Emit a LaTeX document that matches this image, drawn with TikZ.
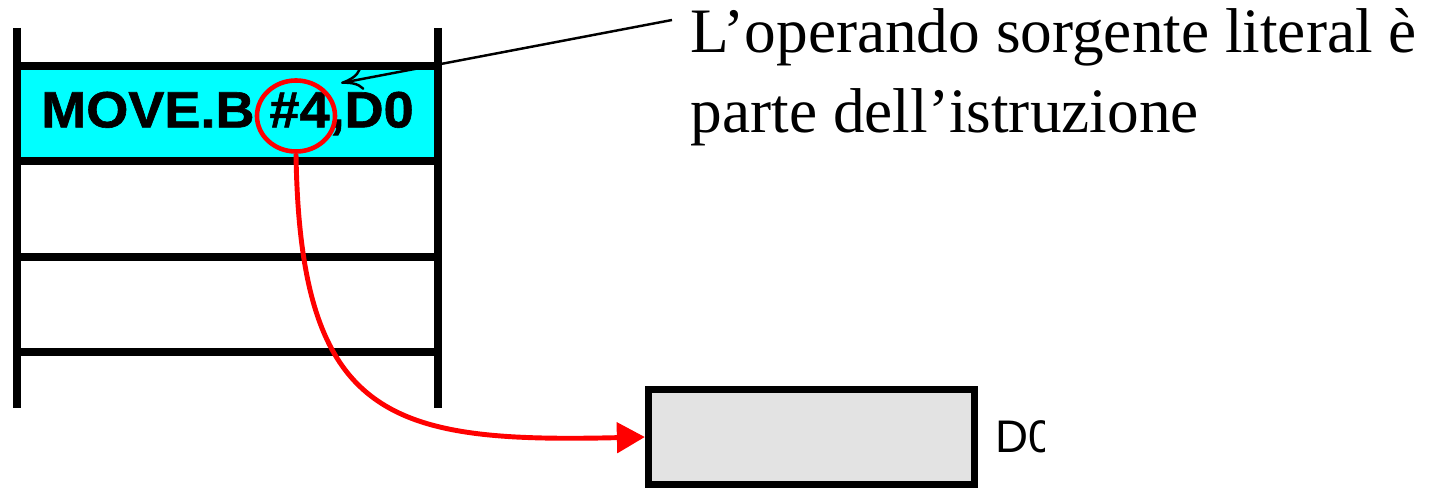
\documentclass[tikz,border=0pt]{standalone}
\usepackage{fontspec}
\setmainfont{Liberation Serif}
\setsansfont{Liberation Sans}
\newfontfamily\cellfont{Liberation Sans}[BoldFeatures={FakeBold=1.2,FakeStretch=1.06}]
\usetikzlibrary{arrows.meta,positioning,shapes.geometric}
\definecolor{cellcyan}{HTML}{00FFFF}
\definecolor{regfill}{HTML}{E3E3E3}
\definecolor{litred}{HTML}{FF0000}

\begin{document}
\begin{tikzpicture}[
    x=0.01cm, y=-0.01cm,
    wall/.style={line width=2pt},
    cell/.style={
        rectangle,
        inner sep=0pt,
        minimum width=4.21cm,
        minimum height=0.95cm,
        fill=cellcyan,
        font=\cellfont\bfseries\fontsize{14.5}{16}\selectfont
    },
    register/.style={
        rectangle,
        draw,
        line width=2pt,
        fill=regfill,
        minimum width=3.26cm,
        minimum height=0.95cm,
        inner sep=0pt
    },
    ring/.style={ellipse, draw=litred, line width=1.3pt, inner sep=0pt,
        minimum width=0.78cm, minimum height=0.71cm},
    flow/.style={draw=litred, line width=1.4pt,
        -{Triangle[length=0.28cm,width=0.30cm]}},
    pointer/.style={line width=0.7pt, -{To[length=0.22cm,width=0.22cm]}},
    note/.style={align=left, inner sep=0pt,
        font=\fontsize{18}{22.8}\selectfont}
]
    \useasboundingbox (0,0) rectangle (1443,488);

    % === MEMORY ===
    \node[cell] (instr) at (227.5,113.5) {MOVE.B \#4,D0};
    \foreach \y in {66,161,257,352} {
        \draw[wall] (17,\y) -- (438,\y);
    }
    \draw[wall] (17,28) -- (17,408);
    \draw[wall] (438,28) -- (438,408);

    % literal operand
    \node[ring] (lit) at (296,116) {};

    % === REGISTER D0 ===
    \node[register] (reg) at (811.5,437) {};
    \begin{scope}
        \clip (980,380) rectangle (1044,488);
        \node[right=0.17cm of reg, inner sep=0pt,
            font=\sffamily\fontsize{13}{15}\selectfont] (reglab) {D0};
    \end{scope}

    % operand goes into the register
    \draw[flow] (lit.south) .. controls (300,420) and (390,443) .. (reg.west);

    % === NOTE ===
    \node[note, anchor=north west] (note) at (690,8)
        {L’operando sorgente literal è\\parte dell’istruzione};
    \coordinate (tail) at (672,20);
    \coordinate (hit) at (341,83);
    \draw[pointer] (tail) -- (hit);
\end{tikzpicture}
\end{document}
